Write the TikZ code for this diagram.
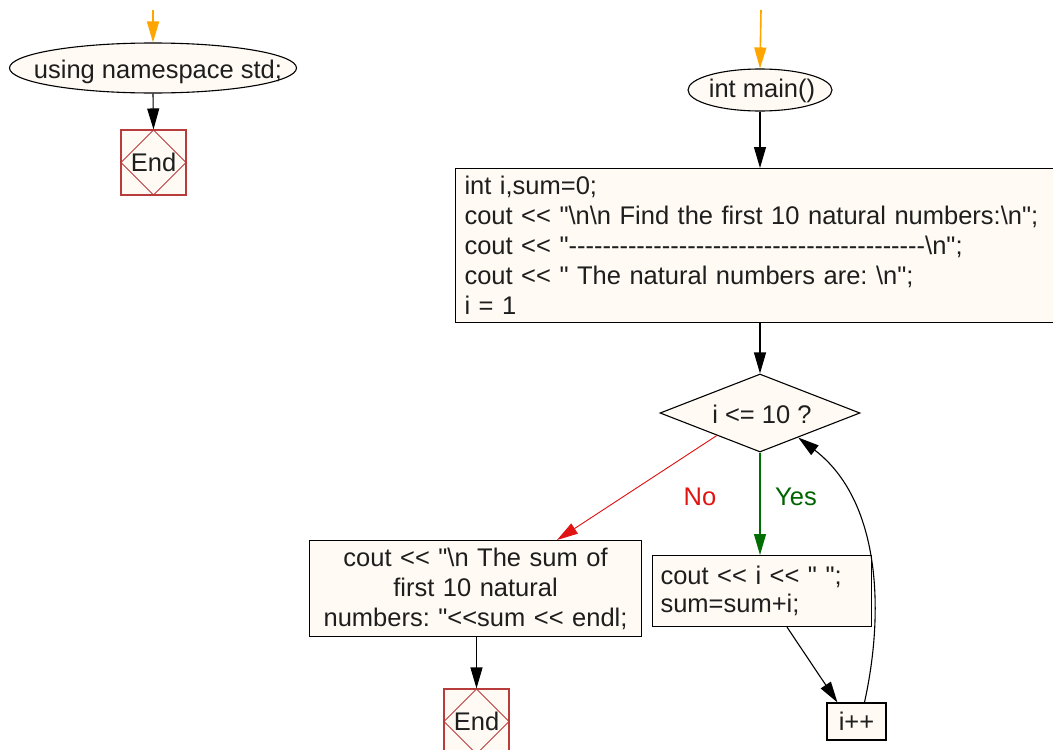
\documentclass[tikz,border=0pt]{standalone}
\usepackage{fontspec}
\setmainfont{Liberation Sans}[Ligatures=TeXOff]
\usetikzlibrary{shapes.geometric,arrows.meta,calc}
\definecolor{cream}{RGB}{255,251,244}
\definecolor{endred}{RGB}{185,60,60}
\definecolor{nored}{RGB}{225,20,20}
\definecolor{yesgreen}{RGB}{0,110,0}
\definecolor{ltorange}{RGB}{255,165,0}
\definecolor{txt}{RGB}{30,30,30}
\frenchspacing
\begin{document}
\begin{tikzpicture}[x=1pt,y=-1pt,
  font=\fontsize{25.5}{30}\selectfont, text=txt,
  line width=1.1pt,
  tip/.style={-{Triangle[length=21pt,width=12pt]}},
  flow/.style={tip, draw=black},
  startflow/.style={tip, draw=ltorange, line width=1.6pt},
  term/.style={ellipse, draw, fill=cream, inner sep=0pt},
  box/.style={rectangle, draw, fill=cream, inner sep=0pt},
  decide/.style={diamond, draw, fill=cream, inner sep=0pt},
  endbox/.style={rectangle, draw=endred, fill=cream, minimum width=65pt, minimum height=65pt, inner sep=0pt,
    path picture={\draw[endred, line width=0.9pt] (path picture bounding box.north) -- (path picture bounding box.east) -- (path picture bounding box.south) -- (path picture bounding box.west) -- cycle;}},
  lbl/.style={inner sep=0pt}
]
\useasboundingbox (0,0) rectangle (1053,750);

% left part
\coordinate (s1) at (153,10);
\node[term, minimum width=287pt, minimum height=50pt] (ns) at (153,68) {};
\node[lbl] (nst) at (158,72) {using namespace std;};
\node[endbox] (e1) at (153.5,162.5) {End};
\draw[startflow] (s1) -- (ns.north);
\draw[flow] (ns.south) -- (e1.north);

% right part
\coordinate (s2) at (761,10);
\node[term, minimum width=144pt, minimum height=42pt] (main) at (760,90) {};
\node[lbl] (maint) at (762,91) {int main()};
\node[box, anchor=north west, minimum height=154pt, text width=583pt, inner xsep=9pt, align=left] (b1) at (455,168)
 {int i,sum=0;\\
  cout << "\textbackslash n\textbackslash n Find the first 10 natural numbers:\textbackslash n";\\
  cout << "-{}-{}-{}-{}-{}-{}-{}-{}-{}-{}-{}-{}-{}-{}-{}-{}-{}-{}-{}-{}-{}-{}-{}-{}-{}-{}-{}-{}-{}-{}-{}-{}-{}-{}-{}-{}-{}-{}-{}-{}-{}-{}\textbackslash n";\\
  cout << " The natural numbers are: \textbackslash n";\\
  i = 1};
\node[decide, minimum width=200pt, minimum height=78pt] (dec) at (760,413) {};
\node[lbl] (dect) at (762,414) {i <= 10 ?};
\node[box, anchor=north west, minimum width=332pt, minimum height=96pt, text width=332pt, align=center] (b2) at (309,540)
 {\rule{0pt}{14pt}cout << "\textbackslash n The sum of\\ first 10 natural\\ numbers: "<<sum << endl;};
\node[box, anchor=north west, minimum height=71pt, text width=203pt, inner xsep=8pt, align=left, font=\fontsize{25.5}{28}\selectfont] (b3) at (652,555)
 {cout << i << " ";\\ sum=sum+i;};
\node[endbox] (e2) at (476.5,721.5) {End};
\node[box, minimum width=59pt, minimum height=37pt] (ipp) at (856.5,721.5) {i++};

\node[lbl, text=nored] (no) at (700,497) {No};
\node[lbl, text=yesgreen!90!black] (yes) at (796,497) {Yes};

\draw[startflow] (s2) -- (main.north);
\draw[flow] (main.south) -- (main.south |- b1.north);
\draw[flow] (dec.north |- b1.south) -- (dec.north);
\draw[tip, draw=nored, fill=nored, line width=0.9pt] ($(dec.west)!0.57!(dec.south)$) -- ([xshift=248pt]b2.north west);
\draw[tip, draw=yesgreen] (dec.south) -- (dec.south |- b3.north);
\draw[flow] (b2.south -| e2.north) -- (e2.north);
\draw[flow] ([xshift=135pt]b3.south west) -- ([xshift=11pt]ipp.north west);
\draw[flow] ([xshift=38pt]ipp.north west) .. controls (885,610) and (880,500) .. ($(dec.south)!0.38!(dec.east)$);
\end{tikzpicture}
\end{document}
